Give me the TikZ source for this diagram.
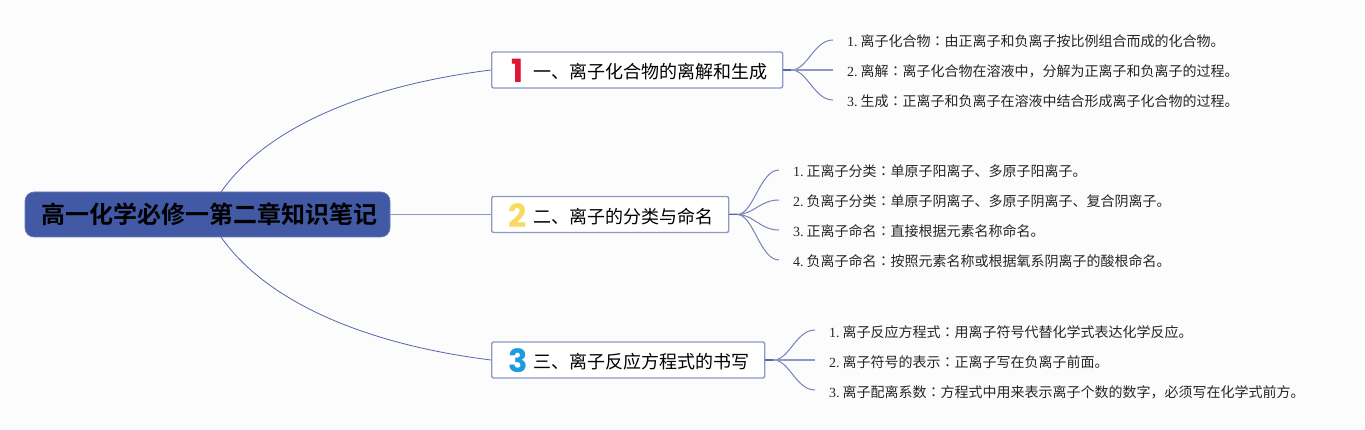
\documentclass[tikz,border=0pt]{standalone}
\usepackage{fontspec}
\setmainfont{Liberation Serif}
\newfontfamily\cjk{Noto Sans CJK SC}
\newfontfamily\cjktc{Noto Sans CJK TC}
\newfontfamily\cjkb{Noto Sans CJK SC Bold}
\newfontfamily\digitfont{Poppins Bold}
\definecolor{bgc}{HTML}{FCFCFD}
\definecolor{rootc}{HTML}{425AA5}
\definecolor{edgec}{HTML}{8E98C4}
\definecolor{linkc}{HTML}{5566A8}
\definecolor{leafc}{HTML}{7583B6}
\tikzset{
  rootbox/.style={draw=rootc!80!white,line width=.6pt,fill=rootc,rounded corners=9pt,inner sep=0pt,minimum width=365pt,minimum height=45pt,text=black,font=\fontsize{24}{24}\selectfont\cjkb},
  branchbox/.style={draw=edgec,line width=1.4pt,fill=white,rounded corners=2pt,inner sep=0pt,minimum height=36pt,anchor=west},
  branchtext/.style={anchor=west,inner sep=0pt,text=black,font=\fontsize{18}{18}\selectfont\cjk,text height=16pt,text depth=1pt},
  badge/.style={anchor=center,inner sep=0pt,font=\fontsize{32}{32}\selectfont\digitfont},
  leaf/.style={anchor=west,inner sep=0pt,text=black!85,font=\fontsize{14}{14}\selectfont,text height=14pt,text depth=0pt},
  mainlink/.style={draw=linkc,line width=.8pt},
  leaflink/.style={draw=leafc,line width=1pt},
  straightlink/.style={draw=edgec,line width=1.7pt},
}
\newcommand{\lf}[3]{#1.\hspace{3pt}{\cjk #2{\cjktc ：}#3}}
\begin{document}
\begin{tikzpicture}[x=1pt,y=-1pt]
\useasboundingbox[fill=bgc] (0,0) rectangle (1365,430);
\coordinate (rt) at (221,192);
\coordinate (rb) at (221,237);
\node[rootbox] (root) at (207.5,214.5) {\hspace*{3pt}\raisebox{-2pt}{高一化学必修一第二章知识笔记}};
\node[branchbox,minimum width=291pt] (b1) at (491,70) {};
\node[branchbox,minimum width=237pt] (b2) at (491,214.5) {};
\node[branchbox,minimum width=273pt] (b3) at (491,360) {};
\node[badge,text={rgb,255:red,222;green,22;blue,52}] (n1) at (518,70.5) {1};
\node[badge,text={rgb,255:red,247;green,219;blue,94}] (n2) at (518,215.5) {2};
\node[badge,text={rgb,255:red,29;green,155;blue,222}] (n3) at (518,360.5) {3};
\node[branchtext] (t1) at (533,71) {一、离子化合物的离解和生成};
\node[branchtext] (t2) at (533,216) {二、离子的分类与命名};
\node[branchtext] (t3) at (533,361) {三、离子反应方程式的书写};
\node[leaf] (a1) at (847,40) {\lf{1}{离子化合物}{由正离子和负离子按比例组合而成的化合物。}};
\node[leaf] (a2) at (847,70) {\lf{2}{离解}{离子化合物在溶液中，分解为正离子和负离子的过程。}};
\node[leaf] (a3) at (847,100) {\lf{3}{生成}{正离子和负离子在溶液中结合形成离子化合物的过程。}};
\node[leaf] (c1) at (793,170) {\lf{1}{正离子分类}{单原子阳离子、多原子阳离子。}};
\node[leaf] (c2) at (793,200) {\lf{2}{负离子分类}{单原子阴离子、多原子阴离子、复合阴离子。}};
\node[leaf] (c3) at (793,230) {\lf{3}{正离子命名}{直接根据元素名称命名。}};
\node[leaf] (c4) at (793,260) {\lf{4}{负离子命名}{按照元素名称或根据氧系阴离子的酸根命名。}};
\node[leaf] (d1) at (829,330) {\lf{1}{离子反应方程式}{用离子符号代替化学式表达化学反应。}};
\node[leaf] (d2) at (829,360) {\lf{2}{离子符号的表示}{正离子写在负离子前面。}};
\node[leaf] (d3) at (829,390) {\lf{3}{离子配离系数}{方程式中用来表示离子个数的数字，必须写在化学式前方。}};
\draw[mainlink] (rt) .. controls (268,125) and (370,85) .. (b1.west);
\draw[mainlink] (rb) .. controls (268,304) and (370,345) .. (b3.west);
\draw[straightlink] (root.east) -- (b2.west);
\foreach \b/\l in {b1/a1,b1/a3,b2/c1,b2/c2,b2/c3,b2/c4,b3/d1,b3/d3}{
  \draw[leaflink] (\b.east) -- ++(8,0) .. controls +(16,0) and ([xshift=-33pt]\l.west) .. ([xshift=-14pt]\l.west);
}
\draw[straightlink] (b1.east) -- ([xshift=-14pt]a2.west);
\draw[straightlink] (b3.east) -- ([xshift=-14pt]d2.west);
\foreach \b in {b1,b2,b3}{\draw[linkc,line width=1.6pt] (\b.east) -- ++(8,0);}
\end{tikzpicture}
\end{document}
